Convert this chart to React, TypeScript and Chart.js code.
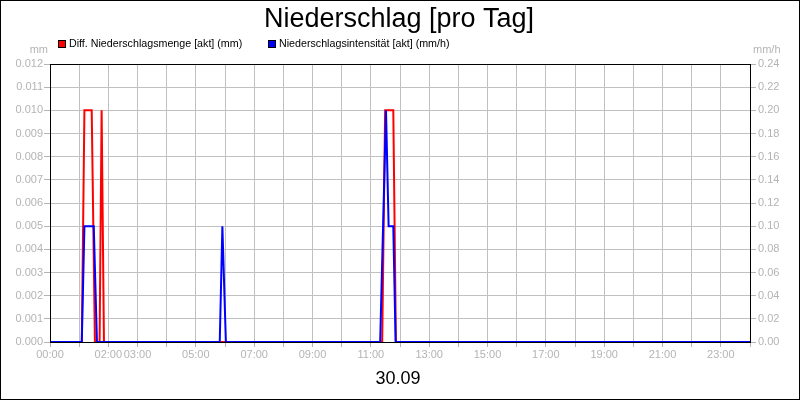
import { useEffect, useRef } from 'react';
import { Chart, registerables } from 'chart.js';
import type { Plugin } from 'chart.js';

Chart.register(...registerables);

// time in hours of the day
const amountTimes = [0, 1.09, 1.18, 1.43, 1.54, 1.70, 1.77, 1.85, 11.39, 11.49, 11.77, 11.86, 24];
const amountValues = [0, 0, 0.010, 0.010, 0, 0, 0.010, 0, 0, 0.010, 0.010, 0, 0];

const intensityTimes = [0, 1.09, 1.18, 1.50, 1.61, 5.82, 5.91, 6.03, 11.32, 11.52, 11.61, 11.77, 11.85, 24];
const intensityValues = [0, 0, 0.10, 0.10, 0, 0, 0.10, 0, 0, 0.20, 0.10, 0.10, 0, 0];

const hourLabels = ['00:00', '02:00', '03:00', '05:00', '07:00', '09:00', '11:00', '13:00', '15:00', '17:00', '19:00', '21:00', '23:00'];

const seriesNames = ['Diff. Niederschlagsmenge [akt] (mm)', 'Niederschlagsintensität [akt] (mm/h)'];
const seriesColors = ['#ff0000', '#0000ff'];

const chartTitle = 'Niederschlag [pro Tag]';
const dateLabel = '30.09';

const FONT = 'Arial, "Liberation Sans", sans-serif';
const GREY = '#b4b4b4';

const fmtHour = (h: number) => String(h).padStart(2, '0') + ':00';

// title, legend, units, date and frame drawn by hand
const decorations: Plugin<'line'> = {
    id: 'decorations',
    afterDraw(chart) {
        const { ctx, chartArea, width, height } = chart;
        ctx.save();

        ctx.strokeStyle = '#000';
        ctx.lineWidth = 1;
        ctx.strokeRect(chartArea.left + 0.5, chartArea.top + 0.5, chartArea.right - chartArea.left, chartArea.bottom - chartArea.top);
        ctx.strokeRect(0.5, 0.5, width - 1, height - 1);

        ctx.fillStyle = '#000';
        ctx.textAlign = 'center';
        ctx.textBaseline = 'alphabetic';
        ctx.font = '27px ' + FONT;
        ctx.fillText(chartTitle, 399, 27);
        ctx.font = '18px ' + FONT;
        ctx.fillText(dateLabel, 398, 384);

        // legend
        ctx.font = '10.7px ' + FONT;
        ctx.textAlign = 'left';
        ctx.textBaseline = 'middle';
        const legendX = [58, 268];
        seriesNames.forEach((name, i) => {
            ctx.fillStyle = seriesColors[i];
            ctx.fillRect(legendX[i], 40, 8, 8);
            ctx.strokeStyle = '#000';
            ctx.strokeRect(legendX[i] + 0.5, 40.5, 7, 7);
            ctx.fillStyle = '#000';
            ctx.fillText(name, legendX[i] + 11, 44.5);
        });

        // units
        ctx.font = '11px ' + FONT;
        ctx.fillStyle = GREY;
        ctx.textAlign = 'right';
        ctx.fillText('mm', 48, 49.5);
        ctx.textAlign = 'left';
        ctx.fillText('mm/h', 753, 49.5);

        ctx.restore();
    },
};

const App: React.FC = () => {
    const chartRef = useRef<HTMLCanvasElement | null>(null);

    useEffect(() => {
        document.body.style.margin = '0';
        const ctx = chartRef.current?.getContext('2d');
        if (!ctx) return;

        const tickFont = { family: FONT, size: 11 };

        const chart = new Chart(ctx, {
            type: 'line',
            data: {
                datasets: [
                    {
                        label: seriesNames[1],
                        data: intensityTimes.map((t, i) => ({ x: t, y: intensityValues[i] })),
                        borderColor: seriesColors[1],
                        backgroundColor: seriesColors[1],
                        borderWidth: 2,
                        pointRadius: 0,
                        tension: 0,
                        yAxisID: 'y1',
                        clip: 4,
                    },
                    {
                        label: seriesNames[0],
                        data: amountTimes.map((t, i) => ({ x: t, y: amountValues[i] })),
                        borderColor: seriesColors[0],
                        backgroundColor: seriesColors[0],
                        borderWidth: 2,
                        pointRadius: 0,
                        tension: 0,
                        yAxisID: 'y',
                        clip: 4,
                    },
                ],
            },
            options: {
                responsive: false,
                animation: false,
                layout: { padding: { top: 64, left: 0, right: 0, bottom: 0 } },
                plugins: {
                    legend: { display: false },
                    title: { display: false },
                    tooltip: { enabled: false },
                },
                scales: {
                    x: {
                        type: 'linear',
                        min: 0,
                        max: 24,
                        afterFit: (s) => { s.height = 58; },
                        afterBuildTicks: (s) => {
                            s.ticks = Array.from({ length: 25 }, (_, h) => ({ value: h }));
                        },
                        ticks: {
                            autoSkip: false,
                            maxRotation: 0,
                            color: GREY,
                            font: tickFont,
                            padding: 1,
                            callback: (v) => {
                                const lbl = fmtHour(Number(v));
                                return hourLabels.includes(lbl) ? lbl : '';
                            },
                        },
                        grid: { color: '#c0c0c0', tickColor: GREY, tickLength: 5 },
                        border: { color: '#000' },
                    },
                    y: {
                        position: 'left',
                        min: 0,
                        max: 0.012,
                        afterFit: (s) => { s.width = 50; },
                        ticks: {
                            stepSize: 0.001,
                            color: GREY,
                            font: tickFont,
                            padding: 1,
                            callback: (v) => Number(v).toFixed(3),
                        },
                        grid: { color: '#c0c0c0', tickColor: GREY, tickLength: 6 },
                        border: { color: '#000' },
                    },
                    y1: {
                        position: 'right',
                        min: 0,
                        max: 0.24,
                        afterFit: (s) => { s.width = 50; },
                        ticks: {
                            stepSize: 0.02,
                            color: GREY,
                            font: tickFont,
                            padding: 2,
                            callback: (v) => Number(v).toFixed(2),
                        },
                        grid: { drawOnChartArea: false, tickColor: GREY, tickLength: 6 },
                        border: { color: '#000' },
                    },
                },
            },
            plugins: [decorations],
        });

        return () => {
            chart.destroy();
        };
    }, []);

    return (
        <div style={{ width: 800, height: 400, background: '#fff' }}>
            <canvas ref={chartRef} width={800} height={400} style={{ width: 800, height: 400 }}></canvas>
        </div>
    );
};

export default App;
